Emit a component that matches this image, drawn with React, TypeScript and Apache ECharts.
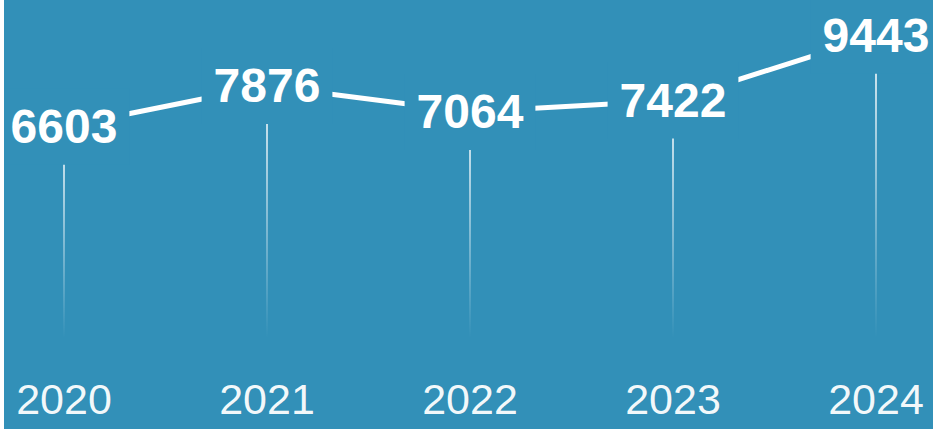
import React, { useEffect, useRef } from "react";
import * as echarts from "echarts";

const years = ["2020", "2021", "2022", "2023", "2024"];
const values = [6603, 7876, 7064, 7422, 9443];

const BG = "#3290b8";

export default function App() {
  const ref = useRef<HTMLDivElement>(null);
  useEffect(() => {
    document.body.style.margin = "0";
    document.body.style.background = "#ffffff";
    const chart = echarts.init(ref.current!, undefined, { renderer: "svg" });
    chart.setOption({
      animation: false,
      backgroundColor: BG,
      grid: { left: 60, right: 57, top: 18, bottom: 91 },
      xAxis: {
        type: "category",
        data: years,
        boundaryGap: false,
        axisLine: { show: false },
        axisTick: { show: false },
        splitLine: { show: false },
        axisLabel: {
          color: "rgba(255,255,255,0.95)",
          fontFamily: "Liberation Sans",
          fontSize: 43,
          margin: 39,
        },
      },
      yAxis: {
        type: "value",
        min: 0,
        max: 10000,
        show: false,
        splitLine: { show: false },
      },
      series: [
        {
          type: "bar",
          data: values,
          barWidth: 2,
          z: 1,
          itemStyle: {
            color: new echarts.graphic.LinearGradient(0, 0, 0, 1, [
              { offset: 0, color: "rgba(255,255,255,0.85)" },
              { offset: 1, color: "rgba(255,255,255,0)" },
            ]),
          },
        },
        {
          type: "line",
          data: values,
          z: 3,
          symbol: "circle",
          symbolSize: 1,
          lineStyle: { color: "#ffffff", width: 5, cap: "butt" },
          itemStyle: { color: BG },
          label: {
            show: true,
            position: "inside",
            color: "#ffffff",
            fontFamily: "Liberation Sans",
            fontWeight: "bold",
            fontSize: 48,
            backgroundColor: BG,
            padding: [14, 12],
          },
        },
      ],
    });
    return () => chart.dispose();
  }, []);
  return (
    <div
      ref={ref}
      style={{ position: "fixed", left: 4, top: 0, width: 929, height: 429 }}
    />
  );
}
